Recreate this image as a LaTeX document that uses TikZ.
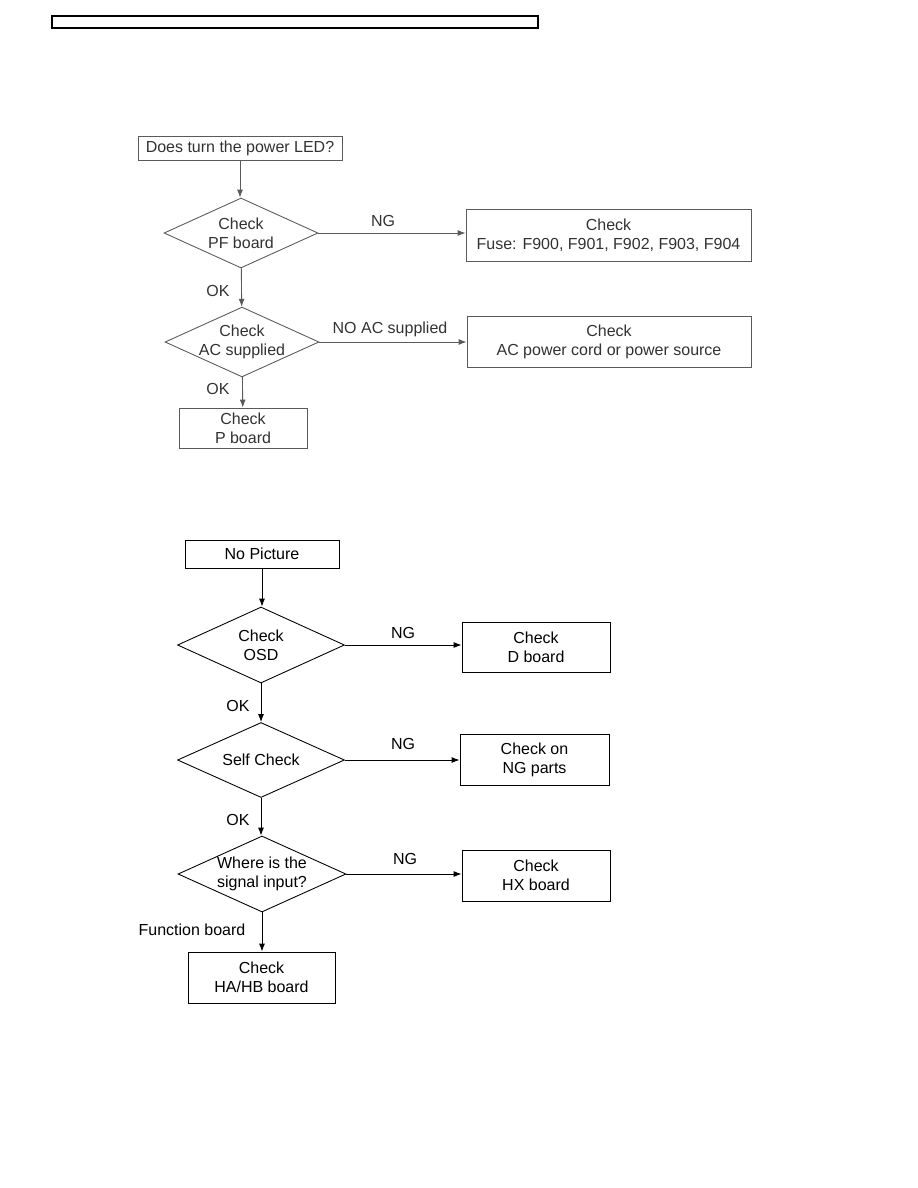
\documentclass[tikz,border=0pt]{standalone}
\usepackage{fontspec}
\setmainfont{Liberation Sans}
\usetikzlibrary{arrows.meta,positioning,shapes.geometric}
\definecolor{steel}{RGB}{90,90,90}
\definecolor{slate}{RGB}{50,50,50}
\newcommand\chartfont{\fontsize{9.1}{10.8}\selectfont}
\tikzset{
  >={Latex[length=1.6mm,width=1.2mm]},
  block/.style={draw=#1,text=#1,rectangle,inner sep=0pt,line width=0.5pt,
    align=center,font=\chartfont},
  block/.default=black,
  decide/.style={draw=#1,text=#1,diamond,aspect=2.2,inner sep=0pt,line width=0.5pt,
    align=center,font=\chartfont},
  decide/.default=black,
  flow/.style={->,line width=0.5pt,draw=#1},
  flow/.default=black,
  tag/.style={font=\chartfont,text=#1,inner sep=0pt},
  tag/.default=black,
}
\begin{document}
\begin{tikzpicture}[x=0.02cm,y=-0.02cm]
  \useasboundingbox (0,0) rectangle (918,1188);
  \draw[line width=0.7pt] (52,16) rectangle (538,28);
  % power LED
  \node[block=slate,draw=steel,minimum width=4.08cm,minimum height=0.48cm] (led) at (240,148) {Does turn the power LED?};
  \node[decide=slate,draw=steel,minimum width=3.08cm,minimum height=1.4cm] (pf) at (241,233) {Check\\PF board};
  \node[block=slate,draw=steel,minimum width=5.7cm,minimum height=1.04cm] (fuse) at (608.5,235) {Check\\Fuse: F900, F901, F902, F903, F904};
  \node[decide=slate,draw=steel,inner xsep=-2pt,minimum width=3.08cm,minimum height=1.38cm] (ac) at (242,342) {Check\\AC supplied};
  \node[block=slate,draw=steel,minimum width=5.68cm,minimum height=1.02cm] (cord) at (609,341.5) {Check\\AC power cord or power source};
  \node[block=slate,draw=steel,minimum width=2.56cm,minimum height=0.8cm] (pb) at (243,428) {Check\\P board};
  \draw[flow=steel] (led) -- (led |- pf.north);
  \draw[flow=steel] (pf.east) -- (pf.east -| fuse.west);
  \draw[flow=steel] (pf) -- (ac);
  \draw[flow=steel] (ac.east) -- (ac.east -| cord.west);
  \draw[flow=steel] (ac) -- (pb);
  \node[tag=slate] (ng1) at (383,221) {NG};
  \node[tag=slate] (ok1) at (218,291) {OK};
  \node[tag=slate] (noac) at (390,329) {NO AC supplied};
  \node[tag=slate] (ok2) at (218,389) {OK};
  % no picture
  \node[block,minimum width=3.08cm,minimum height=0.56cm] (pic) at (262,554) {No Picture};
  \node[decide,minimum width=3.34cm,minimum height=1.52cm] (osd) at (261,645) {Check\\OSD};
  \node[block,minimum width=2.96cm,minimum height=1.0cm] (db) at (536,647) {Check\\D board};
  \node[decide,minimum width=3.34cm,minimum height=1.5cm] (self) at (261,760) {Self Check};
  \node[block,minimum width=2.98cm,minimum height=1.02cm] (parts) at (534.5,759.5) {Check on\\NG parts};
  \node[decide,minimum width=3.36cm,minimum height=1.52cm] (sig) at (262,874) {Where is the\\signal input?};
  \node[block,minimum width=2.96cm,minimum height=1.02cm] (hx) at (536,875.5) {Check\\HX board};
  \node[block,minimum width=2.94cm,minimum height=1.02cm] (ha) at (261.5,977.5) {Check\\HA/HB board};
  \draw[flow] (pic) -- (pic |- osd.north);
  \draw[flow] (osd.east) -- (osd.east -| db.west);
  \draw[flow] (osd) -- (self);
  \draw[flow] (self.east) -- (self.east -| parts.west);
  \draw[flow] (self) -- (self |- sig.north);
  \draw[flow] (sig.east) -- (sig.east -| hx.west);
  \draw[flow] (sig) -- (sig |- ha.north);
  \node[tag] (ng2) at (403,633) {NG};
  \node[tag] (ok3) at (238,706) {OK};
  \node[tag] (ng3) at (403,744) {NG};
  \node[tag] (ok4) at (238,820) {OK};
  \node[tag] (ng4) at (405,859) {NG};
  \node[tag] (fb) at (192,930) {Function board};
\end{tikzpicture}
\end{document}
